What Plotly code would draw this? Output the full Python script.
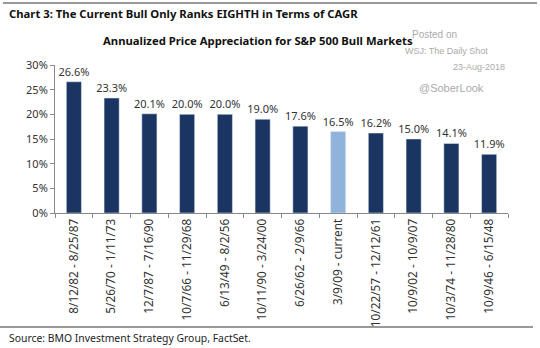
import plotly.graph_objects as go

categories = ["8/12/82 - 8/25/87", "5/26/70 - 1/11/73", "12/7/87 - 7/16/90",
              "10/7/66 - 11/29/68", "6/13/49 - 8/2/56", "10/11/90 - 3/24/00",
              "6/26/62 - 2/9/66", "3/9/09 - current", "10/22/57 - 12/12/61",
              "10/9/02 - 10/9/07", "10/3/74 - 11/28/80", "10/9/46 - 6/15/48"]
values = [26.6, 23.3, 20.1, 20.0, 20.0, 19.0, 17.6, 16.5, 16.2, 15.0, 14.1, 11.9]
highlight = "3/9/09 - current"
y_ticks = [0, 5, 10, 15, 20, 25, 30]

DARK = "#1a3561"
LIGHT = "#8fb3da"
colors = [LIGHT if c == highlight else DARK for c in categories]

W, H = 540, 348
L, R, T, B = 55, 508, 65, 213

def px(x):
    return (x - L) / (R - L)

def py(y):
    return (B - y) / (B - T)

fig = go.Figure(go.Bar(
    x=categories, y=values, marker_color=colors, width=0.4,
    text=[f"{v:.1f}%" for v in values], textposition="outside",
    constraintext="none",
    textfont=dict(size=11, color="#333", family="Noto Sans"),
    cliponaxis=False,
))

fig.update_layout(
    width=W, height=H,
    margin=dict(l=L, r=W - R, t=T, b=H - B, pad=0),
    paper_bgcolor="white", plot_bgcolor="white",
    showlegend=False,
    bargap=0.6,
    font=dict(family="Noto Sans", color="#333"),
)
fig.update_yaxes(range=[0, 30], tickvals=y_ticks, ticktext=[f"{t}%" for t in y_ticks],
                 showgrid=False, zeroline=False, showline=True, linecolor="#888",
                 linewidth=1, ticks="outside", ticklen=4, tickcolor="#888",
                 tickfont=dict(size=11, color="#333"))
fig.update_xaxes(tickangle=-90, showgrid=False, showline=True, linecolor="#888",
                 linewidth=1, ticks="outside", tickson="boundaries", ticklen=4,
                 tickcolor="#888", tickfont=dict(size=11.8, color="#333", family="Noto Sans"))

ann = [
    dict(text="<b>Chart 3: The Current Bull Only Ranks EIGHTH in Terms of CAGR</b>",
         x=px(7), y=py(13), xanchor="left", yanchor="middle",
         font=dict(size=11.3, color="#111", family="Noto Sans")),
    dict(text="<b>Annualized Price Appreciation for S&P 500 Bull Markets</b>",
         x=px(258), y=py(40), xanchor="center", yanchor="middle",
         font=dict(size=11.3, color="#111", family="Noto Sans")),
    dict(text="Posted on", x=px(434), y=py(34), xanchor="center", yanchor="middle",
         font=dict(size=10, color="#aaa", family="Liberation Sans")),
    dict(text="WSJ: The Daily Shot", x=px(490), y=py(51), xanchor="right", yanchor="middle",
         font=dict(size=9, color="#aaa", family="Liberation Sans")),
    dict(text="23-Aug-2018", x=px(507), y=py(67), xanchor="right", yanchor="middle",
         font=dict(size=9, color="#aaa", family="Liberation Sans")),
    dict(text="@SoberLook", x=px(486), y=py(88), xanchor="right", yanchor="middle",
         font=dict(size=11, color="#aaa", family="Liberation Sans")),
    dict(text="Source: BMO Investment Strategy Group, FactSet.",
         x=px(7), y=py(338), xanchor="left", yanchor="middle",
         font=dict(size=10.4, color="#222", family="Noto Sans")),
]
for a in ann:
    a.update(xref="paper", yref="paper", showarrow=False)
fig.update_layout(annotations=ann)

fig.update_layout(shapes=[
    dict(type="line", xref="paper", yref="paper", x0=px(3), x1=px(537), y0=py(3), y1=py(3),
         line=dict(color="#999", width=2)),
    dict(type="line", xref="paper", yref="paper", x0=px(0), x1=px(533), y0=py(327), y1=py(327),
         line=dict(color="#999", width=2)),
])

fig.write_html("out.html")
